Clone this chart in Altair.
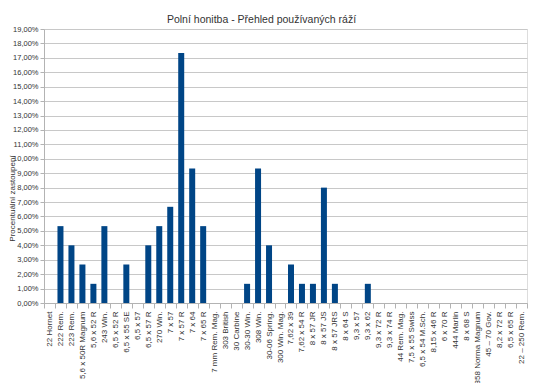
import altair as alt
import pandas as pd

categories = [
    "22 Hornet", "222 Rem.", "223 Rem.", "5,6 x 50R Magnum", "5,6 x 52 R",
    "243 Win.", "6,5 x 52 R", "6,5 x 55 SE", "6,5 x 57", "6,5 x 57 R",
    "270 Win.", "7 x 57", "7 x 57 R", "7 x 64", "7 x 65 R",
    "7 mm Rem. Mag.", "303 British", "30 Carbine", "30-30 Win.", "308 Win.",
    "30-06 Spring.", "300 Win. Mag.", "7,62 x 39", "7,62 x 54 R", "8 x 57 JR",
    "8 x 57 JS", "8 x 57 JRS", "8 x 64 S", "9,3 x 57", "9,3 x 62",
    "9,3 x 72 R", "9,3 x 74 R", "44 Rem. Mag.", "7,5 x 55 Swiss", "6,5 x 54 M.Sch.",
    "8,15 x 46 R", "6 x 70 R", "444 Marlin", "8 x 68 S", "358 Norma Magnum",
    "45 – 70 Gov.", "8,2 x 72 R", "6,5 x 65 R", "22 – 250 Rem.",
]
values = [
    0, 5.33, 4.00, 2.67, 1.33,
    5.33, 0, 2.67, 0, 4.00,
    5.33, 6.67, 17.33, 9.33, 5.33,
    0, 0, 0, 1.33, 9.33,
    4.00, 0, 2.67, 1.33, 1.33,
    8.00, 1.33, 0, 0, 1.33,
    0, 0, 0, 0, 0,
    0, 0, 0, 0, 0,
    0, 0, 0, 0,
]
y_ticks = list(range(0, 20))

df = pd.DataFrame({"cat": categories, "val": values})

FONT = "Liberation Sans"

chart = alt.Chart(df).mark_bar(size=6, color="#004586").encode(
    x=alt.X(
        "cat:N",
        sort=categories,
        title=None,
        scale=alt.Scale(paddingInner=0, paddingOuter=0),
        axis=alt.Axis(
            labelAngle=-90,
            labelFontSize=8,
            labelColor="#333333",
            labelFont=FONT,
            labelPadding=3,
            tickBand="extent",
            tickSize=5,
            tickColor="#b3b3b3",
            domainColor="#b3b3b3",
            labelOverlap=False,
            labelLimit=200,
        ),
    ),
    y=alt.Y(
        "val:Q",
        title="Procentuální zastoupení",
        scale=alt.Scale(domain=[0, 19], nice=False),
        axis=alt.Axis(
            values=y_ticks,
            labelExpr="replace(format(datum.value, '.2f'), '.', ',') + '%'",
            labelFontSize=7.5,
            labelColor="#333333",
            labelFont=FONT,
            titleFontSize=8,
            titleFont=FONT,
            titleFontWeight="normal",
            titleColor="#333333",
            titleAngle=270,
            titleX=-28,
            titleY=169,
            titleAlign="center",
            titleBaseline="bottom",
            tickSize=4,
            tickColor="#b3b3b3",
            domainColor="#b3b3b3",
            gridColor="#c8c8c8",
            labelPadding=2,
        ),
    ),
).properties(
    width=483,
    height=274,
    padding={"left": 36, "top": 21, "right": 15, "bottom": 80},
    autosize=alt.AutoSizeParams(type="none"),
    title=alt.TitleParams(
        "Polní honitba - Přehled používaných ráží",
        fontSize=10.5,
        font=FONT,
        fontWeight="normal",
        color="#333333",
        anchor="middle",
        dx=-24,
        offset=0,
    ),
).configure_view(
    stroke="#c8c8c8"
).configure(background="white")

chart.save("out.html", embed_options={"renderer": "svg", "actions": False})
